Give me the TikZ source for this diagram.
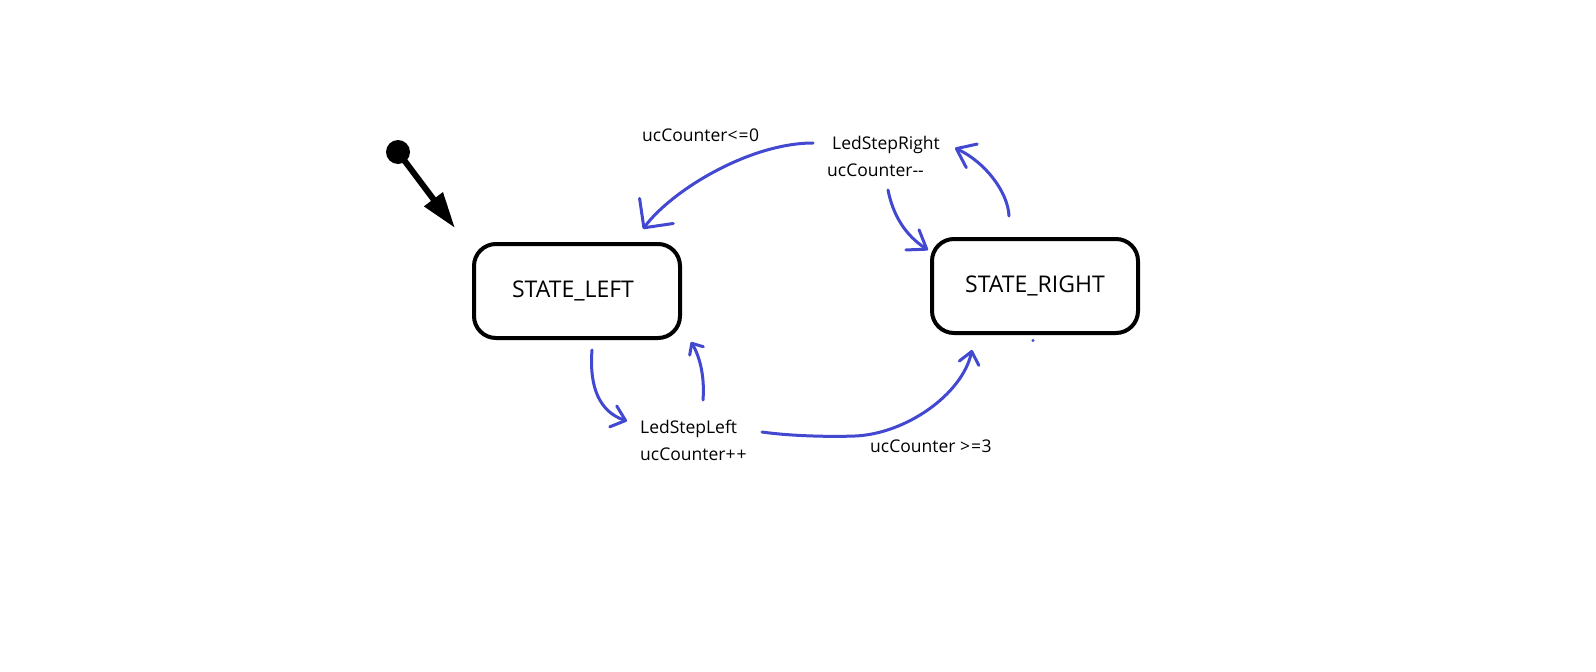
\documentclass[tikz,border=0pt]{standalone}
\usepackage{fontspec}
\setmainfont{Open Sans}
\usetikzlibrary{arrows.meta}
\definecolor{ink}{RGB}{66,72,208}
\begin{document}
\begin{tikzpicture}[x=1pt,y=-1pt,
  state/.style={draw=black, line width=4pt, rounded corners=22pt, minimum width=206pt, minimum height=94pt, font=\fontsize{23}{28}\selectfont, inner sep=0pt},
  lbl/.style={anchor=west, inner sep=0pt, font=\fontsize{17.5}{21}\selectfont},
  pen/.style={draw=ink, line width=3pt, line cap=round, line join=round}
]
\useasboundingbox[fill=white] (0,0) rectangle (1596,672);

% states
\node[state] (left) at (577,291) {\hspace*{-8pt}STATE\_LEFT};
\node[state] (right) at (1035,286) {STATE\_RIGHT};

% labels
\node[lbl] (lsr) at (832,145) {LedStepRight};
\node[lbl] (ucm) at (827,170) {ucCounter{-}{-}};
\node[lbl] (ucle) at (642,135) {ucCounter<\kern1pt=\kern0.5pt0};
\node[lbl] (lsl) at (640,429) {LedStepLeft};
\node[lbl] (ucp) at (640,454) {ucCounter+\kern1pt+};
\node[lbl] (ucge) at (870,446) {ucCounter >\kern1pt=\kern0.5pt3};

% initial pseudo-state
\node[circle, fill=black, minimum size=24pt, inner sep=0pt] (init) at (398,152) {};
\coordinate (inittip) at (455,228);
\draw[line width=6pt, -{Triangle[length=36pt,width=22pt]}] (init.center) -- (inittip);

% endpoints
\coordinate (a1s) at (813,143);
\coordinate (a1e) at (643,229);
\coordinate (a2s) at (888,190);
\coordinate (a2e) at (928,250);
\coordinate (a3s) at (1009,216);
\coordinate (a3e) at (955,148);
\coordinate (a4s) at (592,350);
\coordinate (a4e) at (627,421);
\coordinate (a5s) at (703,400);
\coordinate (a5e) at (691,342);
\coordinate (a6s) at (762,432);
\coordinate (a6m) at (855,436);
\coordinate (a6e) at (972,350);

% transitions
\draw[pen, -{Straight Barb[length=21pt,width=42pt,round]}]
  (a1s) .. controls (750,143) and (672,190) .. (a1e);
\draw[pen, -{Straight Barb[length=17pt,width=24pt,round]}]
  (a2s) .. controls (893,215) and (905,235) .. (a2e);
\draw[pen, -{Straight Barb[length=17pt,width=26pt,round]}]
  (a3s) .. controls (1008,192) and (985,162) .. (a3e);
\draw[pen, -{Straight Barb[length=13pt,width=22pt,round]}]
  (a4s) .. controls (589,388) and (600,412) .. (a4e);
\draw[pen, -{Straight Barb[length=9pt,width=16pt,round]}]
  (a5s) .. controls (705,375) and (699,355) .. (a5e);
\draw[pen, -{Straight Barb[length=12pt,width=20pt,round]}]
  (a6s) .. controls (790,436) and (830,437) .. (a6m)
        .. controls (905,434) and (962,395) .. (a6e);

% small stray mark
\fill[ink] (1033,340.5) circle (1.6pt);
\end{tikzpicture}
\end{document}
